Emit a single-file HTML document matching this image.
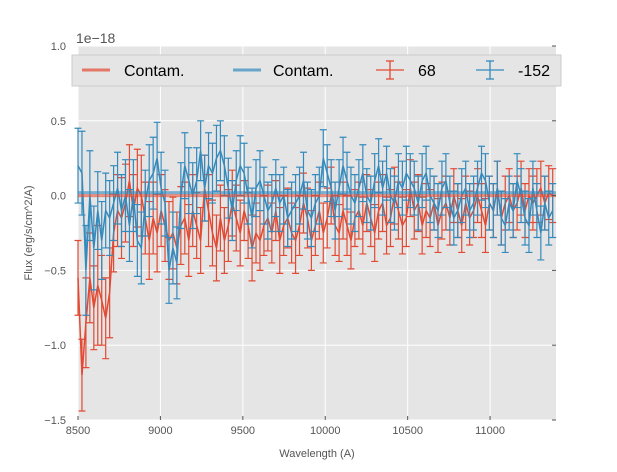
<!DOCTYPE html>
<html><head><meta charset="utf-8"><style>
body{margin:0;background:#fff;}
svg text{font-family:"Liberation Sans",sans-serif;}
</style></head><body>
<svg id="chart" width="617" height="467" viewBox="0 0 617 467" xmlns="http://www.w3.org/2000/svg">
<rect x="78" y="46" width="478" height="374" fill="#e5e5e5"/>
<g id="grid"></g>
<g id="marks"></g>
<g id="axes"></g>
<text x="76" y="43" font-size="14" fill="#555">1e−18</text>
<text x="317" y="457" font-size="11" fill="#555" text-anchor="middle">Wavelength (A)</text>
<text transform="translate(32,233) rotate(-90)" font-size="11" fill="#555" text-anchor="middle">Flux (erg/s/cm^2/A)</text>
<g>
<rect x="72" y="55" width="489" height="31" fill="#e5e5e5" stroke="#ccc"/>
<line x1="82" y1="70" x2="110" y2="70" stroke="#E24A33" stroke-width="3" opacity="0.7"/>
<text x="124" y="76" font-size="16" fill="#000">Contam.</text>
<line x1="233" y1="70" x2="261" y2="70" stroke="#348ABD" stroke-width="3" opacity="0.7"/>
<text x="273" y="76" font-size="16" fill="#000">Contam.</text>
<g stroke="#E24A33" stroke-width="1.3"><line x1="376" y1="70" x2="404" y2="70"/><line x1="390" y1="61" x2="390" y2="79"/><line x1="386" y1="61" x2="394" y2="61"/><line x1="386" y1="79" x2="394" y2="79"/></g>
<text x="418" y="76" font-size="16" fill="#000">68</text>
<g stroke="#348ABD" stroke-width="1.3"><line x1="476" y1="70" x2="504" y2="70"/><line x1="490" y1="61" x2="490" y2="79"/><line x1="486" y1="61" x2="494" y2="61"/><line x1="486" y1="79" x2="494" y2="79"/></g>
<text x="518" y="76" font-size="16" fill="#000">-152</text>
</g>
</svg>
<script>
const xTicks=[8500,9000,9500,10000,10500,11000];
const yTicks=[-1.5,-1.0,-0.5,0.0,0.5,1.0];
const yTickLabels=["−1.5","−1.0","−0.5","0.0","0.5","1.0"];
const wlStart=8500, wlStep=24;
const red68=[-0.55,-1.2,-0.85,-0.55,-0.75,-0.6,-0.7,-0.82,-0.65,-0.25,-0.1,-0.15,-0.05,0.1,-0.1,0.05,0.0,-0.15,-0.3,-0.15,-0.25,-0.1,-0.2,-0.3,-0.25,-0.35,-0.2,-0.15,-0.3,-0.1,-0.2,-0.3,0.05,-0.1,-0.25,-0.35,-0.15,-0.3,-0.2,-0.05,-0.15,-0.25,-0.1,-0.2,-0.35,-0.25,-0.3,-0.2,-0.15,-0.25,-0.1,-0.3,-0.2,-0.15,-0.25,-0.3,-0.2,-0.05,-0.15,-0.3,-0.2,-0.1,-0.25,-0.15,0.0,-0.2,-0.25,-0.1,-0.2,-0.3,-0.15,-0.1,-0.2,-0.05,-0.15,-0.25,-0.1,-0.05,-0.2,-0.15,0.0,-0.1,-0.2,-0.15,0.05,-0.1,-0.05,-0.2,-0.1,-0.15,-0.05,-0.2,-0.1,-0.05,-0.15,0.0,-0.1,-0.2,-0.05,-0.15,-0.1,0.0,-0.1,-0.2,-0.05,-0.1,0.05,-0.15,-0.05,0.0,-0.1,-0.05,0.05,-0.1,0.0,-0.05,0.0,0.05,-0.05,0.02,0.0];
const red68Err=[0.25,0.24,0.3,0.3,0.28,0.4,0.3,0.27,0.3,0.26,0.24,0.27,0.26,0.24,0.24,0.26,0.27,0.24,0.26,0.24,0.26,0.24,0.24,0.26,0.24,0.24,0.26,0.24,0.24,0.24,0.22,0.22,0.22,0.24,0.22,0.22,0.22,0.22,0.24,0.22,0.22,0.22,0.2,0.22,0.22,0.2,0.2,0.2,0.22,0.2,0.2,0.22,0.2,0.2,0.2,0.22,0.2,0.2,0.2,0.2,0.2,0.19,0.2,0.2,0.19,0.2,0.19,0.19,0.2,0.19,0.19,0.19,0.19,0.19,0.19,0.19,0.19,0.19,0.19,0.19,0.19,0.19,0.19,0.19,0.19,0.19,0.19,0.19,0.18,0.19,0.18,0.18,0.19,0.18,0.18,0.18,0.18,0.18,0.18,0.18,0.18,0.18,0.18,0.18,0.18,0.18,0.18,0.18,0.18,0.18,0.18,0.18,0.18,0.18,0.18,0.18,0.18,0.18,0.18,0.18,0.18];
const blue152=[0.2,0.15,-0.5,0.0,-0.35,-0.1,-0.3,-0.1,-0.15,-0.05,0.05,-0.1,0.0,-0.2,0.0,-0.3,-0.35,-0.05,0.1,0.15,0.25,0.05,-0.05,-0.5,-0.35,-0.45,0.0,0.2,0.1,0.0,0.1,0.3,0.05,0.2,0.15,0.25,0.3,0.2,0.05,-0.1,0.1,0.2,0.15,0.0,-0.15,0.05,0.1,0.0,-0.1,-0.05,0.05,-0.05,0.0,-0.15,-0.1,-0.05,0.0,0.1,-0.1,-0.15,-0.05,0.0,0.25,0.15,0.05,-0.1,0.05,0.2,0.1,0.0,-0.05,0.05,0.15,0.0,-0.05,0.1,0.2,0.05,0.15,0.0,-0.05,0.1,0.05,0.15,0.1,0.05,-0.05,0.1,0.15,0.0,-0.05,-0.1,0.05,0.1,-0.05,-0.15,-0.1,0.0,0.05,-0.1,-0.05,0.05,0.15,0.1,-0.05,-0.1,0.05,-0.15,-0.2,-0.05,-0.1,0.1,0.0,-0.15,-0.2,0.05,-0.1,-0.25,-0.05,-0.15,-0.1];
const blue152Err=[0.25,0.28,0.3,0.3,0.28,0.26,0.26,0.25,0.25,0.25,0.24,0.24,0.24,0.24,0.24,0.24,0.24,0.22,0.24,0.24,0.24,0.24,0.22,0.22,0.24,0.24,0.22,0.22,0.22,0.22,0.22,0.2,0.22,0.22,0.2,0.22,0.2,0.2,0.2,0.2,0.2,0.2,0.2,0.19,0.2,0.19,0.2,0.19,0.19,0.19,0.19,0.19,0.19,0.19,0.19,0.19,0.19,0.19,0.19,0.19,0.19,0.19,0.19,0.19,0.19,0.19,0.19,0.19,0.19,0.19,0.19,0.19,0.19,0.18,0.18,0.18,0.18,0.18,0.18,0.18,0.18,0.18,0.18,0.18,0.18,0.18,0.18,0.18,0.18,0.18,0.18,0.18,0.18,0.18,0.18,0.18,0.18,0.18,0.18,0.18,0.18,0.18,0.18,0.18,0.18,0.18,0.18,0.18,0.18,0.18,0.18,0.18,0.18,0.18,0.18,0.18,0.18,0.18,0.18,0.18,0.18];
const contamRed=[0.0,0.0];
const contamBlue=[0.02,0.02];
const xMin=8500,xMax=11400,yMin=-1.5,yMax=1.0;
const L=78,R=556,T=46,B=420;
const X=v=>L+(v-xMin)/(xMax-xMin)*(R-L);
const Y=v=>B-(v-yMin)/(yMax-yMin)*(B-T);
const NS="http://www.w3.org/2000/svg";
function mk(tag,attrs,parent){const e=document.createElementNS(NS,tag);for(const k in attrs)e.setAttribute(k,attrs[k]);parent.appendChild(e);return e;}
const grid=document.getElementById('grid'),marks=document.getElementById('marks'),axes=document.getElementById('axes');
xTicks.forEach(t=>{const g=mk('line',{x1:X(t),x2:X(t),y1:T,y2:B,stroke:'#fff','stroke-width':1},grid);


const tx=mk('text',{x:X(t),y:B+14,'font-size':11,fill:'#555','text-anchor':'middle'},axes);tx.textContent=t;


mk('line',{x1:X(t),x2:X(t),y1:B,y2:B-4,stroke:'#555'},axes);});
yTicks.forEach((t,i)=>{const g=mk('line',{x1:L,x2:R,y1:Y(t),y2:Y(t),stroke:'#fff','stroke-width':1},grid);


const tx=mk('text',{x:L-12,y:Y(t)+4,'font-size':11,fill:'#555','text-anchor':'end'},axes);tx.textContent=yTickLabels[i];


mk('line',{x1:R,x2:R-4,y1:Y(t),y2:Y(t),stroke:'#555'},axes);});
function series(vals,errs,color,name){
const g=mk('g',{},marks);


let d='';
vals.forEach((v,i)=>{const x=X(wlStart+i*wlStep);if(x>R)return;d+=(d?'L':'M')+x.toFixed(1)+','+Y(v).toFixed(1);
const e=errs[i]||0.18;
mk('path',{d:`M${x},${Y(v-e)}V${Y(v+e)}M${x-3.5},${Y(v-e)}h7M${x-3.5},${Y(v+e)}h7`,stroke:color,'stroke-width':1.2,fill:'none'},g);});
mk('path',{d,stroke:color,'stroke-width':1.5,fill:'none'},g);}
function contam(vals,color,name){const l=mk('line',{x1:L,x2:R,y1:Y(vals[0]),y2:Y(vals[1]),stroke:color,'stroke-width':3,opacity:0.6},marks);

}
series(red68,red68Err,'#E24A33','series-68');
series(blue152,blue152Err,'#348ABD','series-152');
contam(contamRed,'#E24A33','contam-line-red');
contam(contamBlue,'#348ABD','contam-line-blue');
</script>
</body></html>
